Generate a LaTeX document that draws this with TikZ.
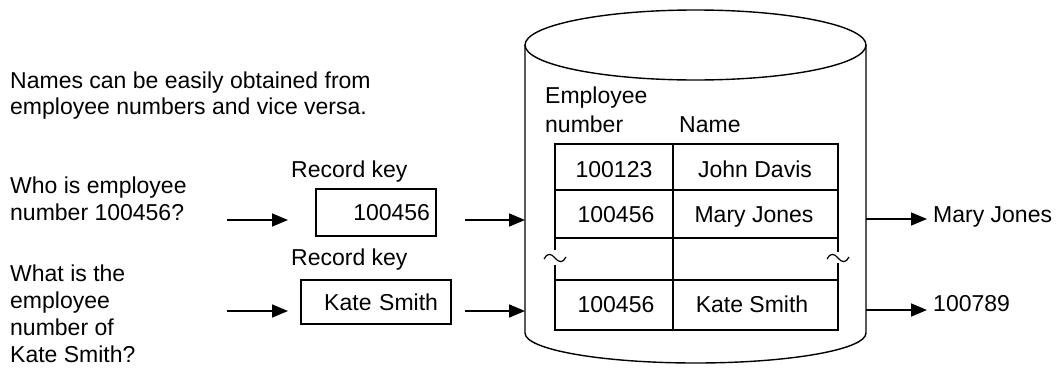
\documentclass[tikz,border=0pt]{standalone}
\usepackage{fontspec}
\setmainfont{Liberation Sans}
\usetikzlibrary{arrows.meta}
\begin{document}
\begin{tikzpicture}[x=1pt,y=-1pt,
  cyl/.style={line width=1.4pt},
  tbl/.style={line width=1.5pt},
  tilde/.style={line width=1.2pt},
  txt/.style={inner sep=0pt, anchor=base west, font=\fontsize{23}{27}\selectfont},
  ctxt/.style={inner sep=0pt, anchor=base, font=\fontsize{23}{27}\selectfont},
  keybox/.style={draw, line width=1.4pt, minimum height=47pt, align=right, font=\fontsize{23}{27}\selectfont, inner ysep=0pt},
  arr/.style={line width=1.6pt, -{Triangle[length=16pt,width=13pt]}},
]
\useasboundingbox (0,0) rectangle (1057,367);

% cylinder
\coordinate (cylTL) at (525,45);
\coordinate (cylTR) at (866,45);
\coordinate (cylBL) at (525,333);
\draw[cyl] (695.5,45) ellipse [x radius=170.5pt, y radius=35pt];
\draw[cyl] (cylTL) -- (cylBL) arc[start angle=180, end angle=360, x radius=170.5pt, y radius=30pt] -- (cylTR);

% table
\draw[tbl] (555,250) -- (555,144) -- (838,144) -- (838,252);
\draw[tbl] (555,265) -- (555,330) -- (838,330) -- (838,263);
\draw[tbl] (673,144) -- (673,330);
\draw[tbl] (555,190) -- (838,190);
\draw[tbl] (555,238) -- (838,238);
\draw[tbl] (555,280) -- (838,280);
\draw[tilde] (544,259) .. controls (547,253) and (551,253) .. (555,258) .. controls (559,263) and (563,263) .. (566,257);
\draw[tilde] (827,259) .. controls (830,253) and (834,253) .. (838,258) .. controls (842,263) and (846,263) .. (849,257);

% headers and cells
\node[txt] (hemp1) at (545,103) {Employee};
\node[txt] (hemp2) at (545,132) {number};
\node[txt] (hname) at (679,132) {Name};
\node[ctxt] (c11) at (614,177) {100123};
\node[ctxt] (c12) at (755,177) {John Davis};
\node[ctxt] (c21) at (616,222) {100456};
\node[ctxt] (c22) at (754,222) {Mary Jones};
\node[ctxt] (c41) at (616,312) {100456};
\node[ctxt] (c42) at (752,312) {Kate Smith};

% left texts
\node[txt] (intro1) at (10,88) {Names can be easily obtained from};
\node[txt] (intro2) at (10,114) {employee numbers and vice versa.};
\node[txt] (q1a) at (10,193) {Who is employee};
\node[txt] (q1b) at (10,220) {number 100456?};
\node[txt] (q2a) at (10,281) {What is the};
\node[txt] (q2b) at (10,308) {employee};
\node[txt] (q2c) at (10,335) {number of};
\node[txt] (q2d) at (10,362) {Kate Smith?};

% record keys
\node[txt] (rk1) at (291,177) {Record key};
\node[txt] (rk2) at (291,265) {Record key};
\node[keybox, text width=108pt, inner xsep=6pt] (box1) at (376,212.5) {100456};
\node[keybox, text width=124pt, inner xsep=13pt, minimum height=44pt] (box2) at (376,302) {Kate Smith};

% outputs
\node[txt] (out1) at (933,222) {Mary Jones};
\node[txt] (out2) at (933,311) {100789};

% arrows
\coordinate (a1s) at (227,220); \coordinate (a1e) at (288,220);
\coordinate (a2s) at (465,220); \coordinate (a2e) at (525,220);
\coordinate (a3s) at (227,311); \coordinate (a3e) at (288,311);
\coordinate (a4s) at (465,311); \coordinate (a4e) at (525,311);
\coordinate (a5s) at (866,219); \coordinate (a5e) at (927,219);
\coordinate (a6s) at (866,310); \coordinate (a6e) at (927,310);
\draw[arr] (a1s) -- (a1e);
\draw[arr] (a2s) -- (a2e);
\draw[arr] (a3s) -- (a3e);
\draw[arr] (a4s) -- (a4e);
\draw[arr] (a5s) -- (a5e);
\draw[arr] (a6s) -- (a6e);
\end{tikzpicture}
\end{document}
